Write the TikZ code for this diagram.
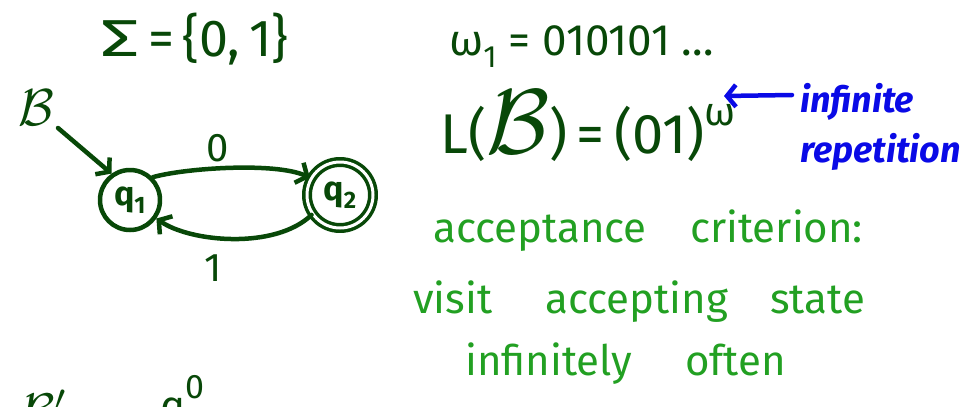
\documentclass[tikz,border=0pt]{standalone}
\usepackage{fontspec}
\setmainfont{Fira Sans}
\usetikzlibrary{arrows.meta}
\definecolor{dkgreen}{RGB}{8,72,8}
\definecolor{ltgreen}{RGB}{34,160,34}
\definecolor{penblue}{RGB}{10,10,230}
\newcommand{\bigB}[1]{\scalebox{#1}{$\mathcal{B}$}}
\begin{document}
\begin{tikzpicture}[x=1pt,y=-1pt,
  pen/.style={line width=4.5pt, line cap=round, line join=round},
  handarrow/.style={pen, -{Straight Barb[length=9pt,width=22pt,line width=4.5pt]}},
  statenode/.style={circle, draw=dkgreen, pen, minimum size=60pt, inner sep=0pt,
     text=dkgreen, font=\fontsize{34}{34}\selectfont\bfseries},
  accepting/.style={double=white, double distance=3pt, line width=3.5pt, minimum size=66pt},
  dktext/.style={text=dkgreen, inner sep=0pt},
  grtext/.style={text=ltgreen, inner sep=0pt, anchor=base west, font=\fontsize{42}{42}\selectfont},
  bltext/.style={text=penblue, inner sep=0pt, anchor=base west, font=\fontsize{36}{36}\selectfont\bfseries\itshape}]
\useasboundingbox (0,0) rectangle (962,407);
\clip (0,0) rectangle (962,407);

% alphabet
\node[dktext, anchor=base west, font=\fontsize{52}{52}\selectfont] (sigma) at (100,56) {\scalebox{1.5}[1]{Σ}\,=\,\{0,\,1\}};

% automaton B
\node[dktext] (blabel) at (36,108) {\bigB{5.2}};
\coordinate (binit) at (58,128);
\node[statenode] (q1) at (130,200) {q\textsubscript{1}};
\node[statenode, accepting] (q2) at (340,195) {q\textsubscript{2}};

\draw[handarrow, dkgreen] (binit) -- (q1.125);
\draw[handarrow, dkgreen] (q1.45) .. controls (185,168) and (275,162) .. (q2.150);
\draw[handarrow, dkgreen] (q2.215) .. controls (275,250) and (190,242) .. (q1.-35);

\node[dktext, font=\fontsize{40}{40}\selectfont] (lab0) at (218,148) {0};
\node[dktext, font=\fontsize{40}{40}\selectfont] (lab1) at (213,268) {1};

% words
\node[dktext, anchor=base west, font=\fontsize{44}{44}\selectfont] (w1) at (449,55) {ω\textsubscript{1} = 010101 …};
\node[dktext, anchor=base west, font=\fontsize{56}{56}\selectfont] (lang) at (440,153) {L(\bigB{3.7})\,=\,(01)\raisebox{28pt}{\fontsize{40}{40}\selectfont ω}};

% blue note
\node[bltext] (inf) at (800,112) {infinite};
\node[bltext] (rep) at (800,162) {repetition};
\coordinate (arrstart) at (792,95);
\coordinate (arrend) at (724,96);
\draw[pen, penblue, -{Straight Barb[length=9pt,width=22pt,line width=4.5pt]}] (arrstart) -- (arrend);

% green text
\node[grtext] (acc) at (433,242) {acceptance};
\node[grtext] (crit) at (690,242) {criterion:};
\node[grtext] (visit) at (413,313) {visit};
\node[grtext] (accg) at (545,313) {accepting};
\node[grtext] (state) at (770,313) {state};
\node[grtext] (infly) at (465,375) {infinitely};
\node[grtext] (often) at (685,375) {often};

% cut-off line at the bottom
\node[dktext, anchor=base west] (bprime) at (20,428) {\scalebox{5}{$\mathcal{B}'$}};
\node[dktext, anchor=base west, font=\fontsize{42}{42}\selectfont] (qzero) at (160,420) {q\raisebox{22pt}{\fontsize{34}{34}\selectfont 0}};
\end{tikzpicture}
\end{document}
